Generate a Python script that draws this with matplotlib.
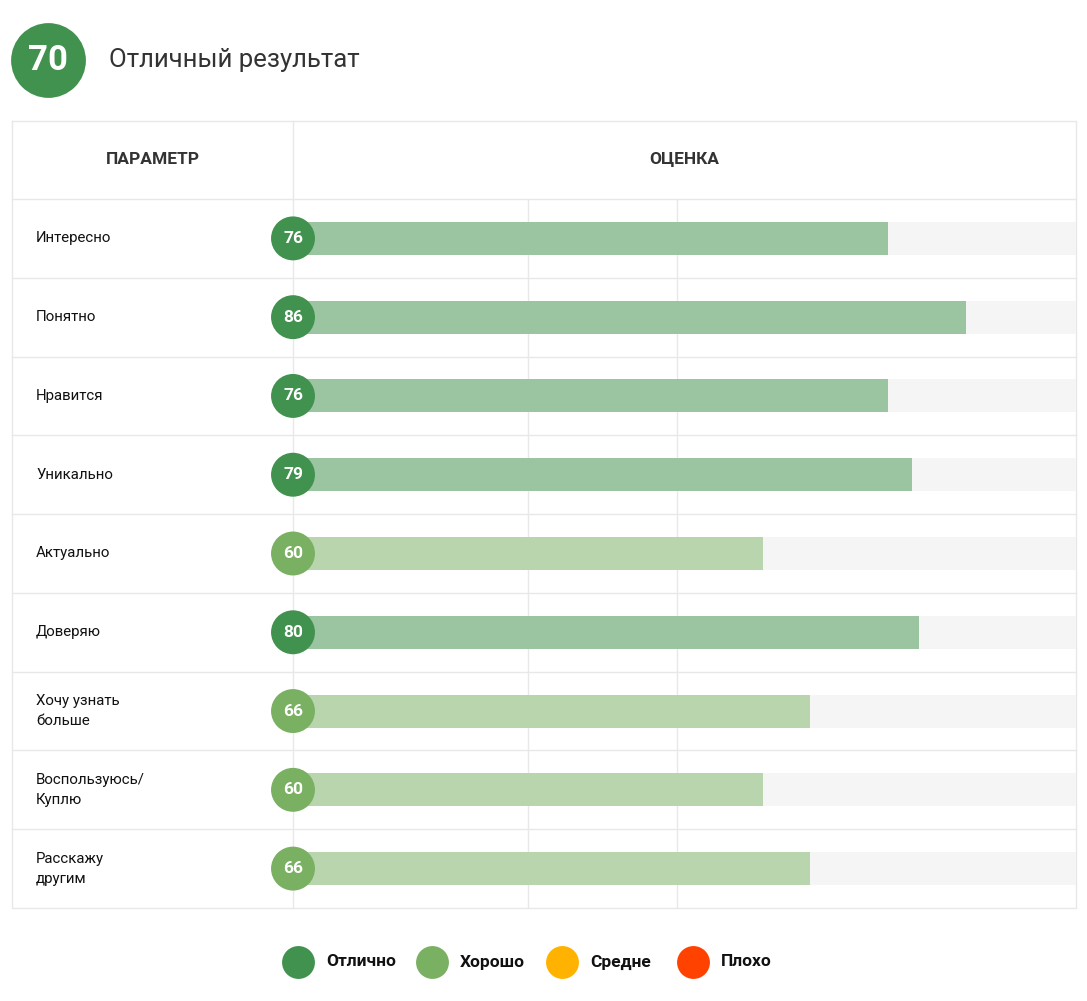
import matplotlib.pyplot as plt

plt.rcParams['font.family'] = ['Roboto', 'DejaVu Sans']

# ---- data ----
total_score = 70
total_label = 'Отличный результат'
params = ['Интересно', 'Понятно', 'Нравится', 'Уникально', 'Актуально',
          'Доверяю', 'Хочу узнать\nбольше', 'Воспользуюсь/\nКуплю', 'Расскажу\nдругим']
scores = [76, 86, 76, 79, 60, 80, 66, 60, 66]
levels = ['Отлично', 'Отлично', 'Отлично', 'Отлично', 'Хорошо',
          'Отлично', 'Хорошо', 'Хорошо', 'Хорошо']
legend_names = ['Отлично', 'Хорошо', 'Средне', 'Плохо']
grid_marks = [30, 49]

# ---- style ----
circle_col = {'Отлично': '#41914F', 'Хорошо': '#7AB062', 'Средне': '#FFB200', 'Плохо': '#FF4200'}
bar_col = {'Отлично': '#9BC5A1', 'Хорошо': '#B8D5AD', 'Средне': '#FFE099', 'Плохо': '#FFB399'}
line_col = '#E8E8E8'
W, H = 1087, 1001

fig = plt.figure(figsize=(W / 100, H / 100), dpi=100)
fig.patch.set_facecolor('white')

# background axes in pixel coordinates
bg = fig.add_axes([0, 0, 1, 1])
bg.set_xlim(0, W)
bg.set_ylim(H, 0)
bg.axis('off')

# table geometry (pixels)
tx0, tx1, ty0, ty1 = 12, 1076, 121, 908
col_x = 293
head_y = 199
row_h = (ty1 - head_y) / len(params)

# outer frame and lines
bg.plot([tx0, tx1, tx1, tx0, tx0], [ty0, ty0, ty1, ty1, ty0], color=line_col, lw=1.0)
bg.plot([col_x, col_x], [ty0, ty1], color=line_col, lw=1.0)
for i in range(len(params)):
    y = head_y + i * row_h
    bg.plot([tx0, tx1], [y, y], color=line_col, lw=1.0)

bg.text((tx0 + col_x) / 2, 159, 'ПАРАМЕТР', ha='center', va='center',
        fontsize=12.5, weight='bold', color='#333333')
bg.text((col_x + tx1) / 2, 159, 'ОЦЕНКА', ha='center', va='center',
        fontsize=12.5, weight='bold', color='#333333')

for i, name in enumerate(params):
    y = head_y + (i + 0.5) * row_h
    bg.text(36, y, name, ha='left', va='center', fontsize=10.8,
            color='#111111', linespacing=1.55)

# top summary
bg.scatter([48], [60], s=2900, color=circle_col['Отлично'], linewidths=0)
bg.text(48, 60, str(total_score), ha='center', va='center', fontsize=25,
        weight='bold', color='white')
bg.text(109, 60, total_label, ha='left', va='center', fontsize=18.5, color='#333333')

# legend
leg_x = [298, 432, 562, 693]
for x, name in zip(leg_x, legend_names):
    bg.scatter([x], [962], s=560, color=circle_col[name], linewidths=0)
    bg.text(x + 28, 962, name, ha='left', va='center', fontsize=12.5,
            weight='bold', color='#111111')

# bar axes
ax = fig.add_axes([col_x / W, (H - ty1) / H, (tx1 - col_x) / W, (ty1 - head_y) / H])
ax.set_xlim(0, 100)
ax.set_ylim(len(params) - 0.5, -0.5)
ax.patch.set_alpha(0)
for s in ax.spines.values():
    s.set_visible(False)
ax.set_xticks([])
ax.set_yticks([])

for g in grid_marks:
    ax.axvline(g, color=line_col, lw=1.0, zorder=0)

ypos = list(range(len(params)))
bar_h = 0.42
ax.barh(ypos, [100] * len(params), height=bar_h, color='#F5F5F5', zorder=1)
ax.barh(ypos, scores, height=bar_h, color=[bar_col[l] for l in levels], zorder=2)
ax.scatter([0] * len(params), ypos, s=1000, color=[circle_col[l] for l in levels],
           linewidths=0, zorder=3, clip_on=False)
for y, v in zip(ypos, scores):
    ax.text(0, y, str(v), ha='center', va='center', fontsize=12.5, weight='bold',
            color='white', zorder=4)

fig.savefig('out.png', dpi=100, facecolor='white')
